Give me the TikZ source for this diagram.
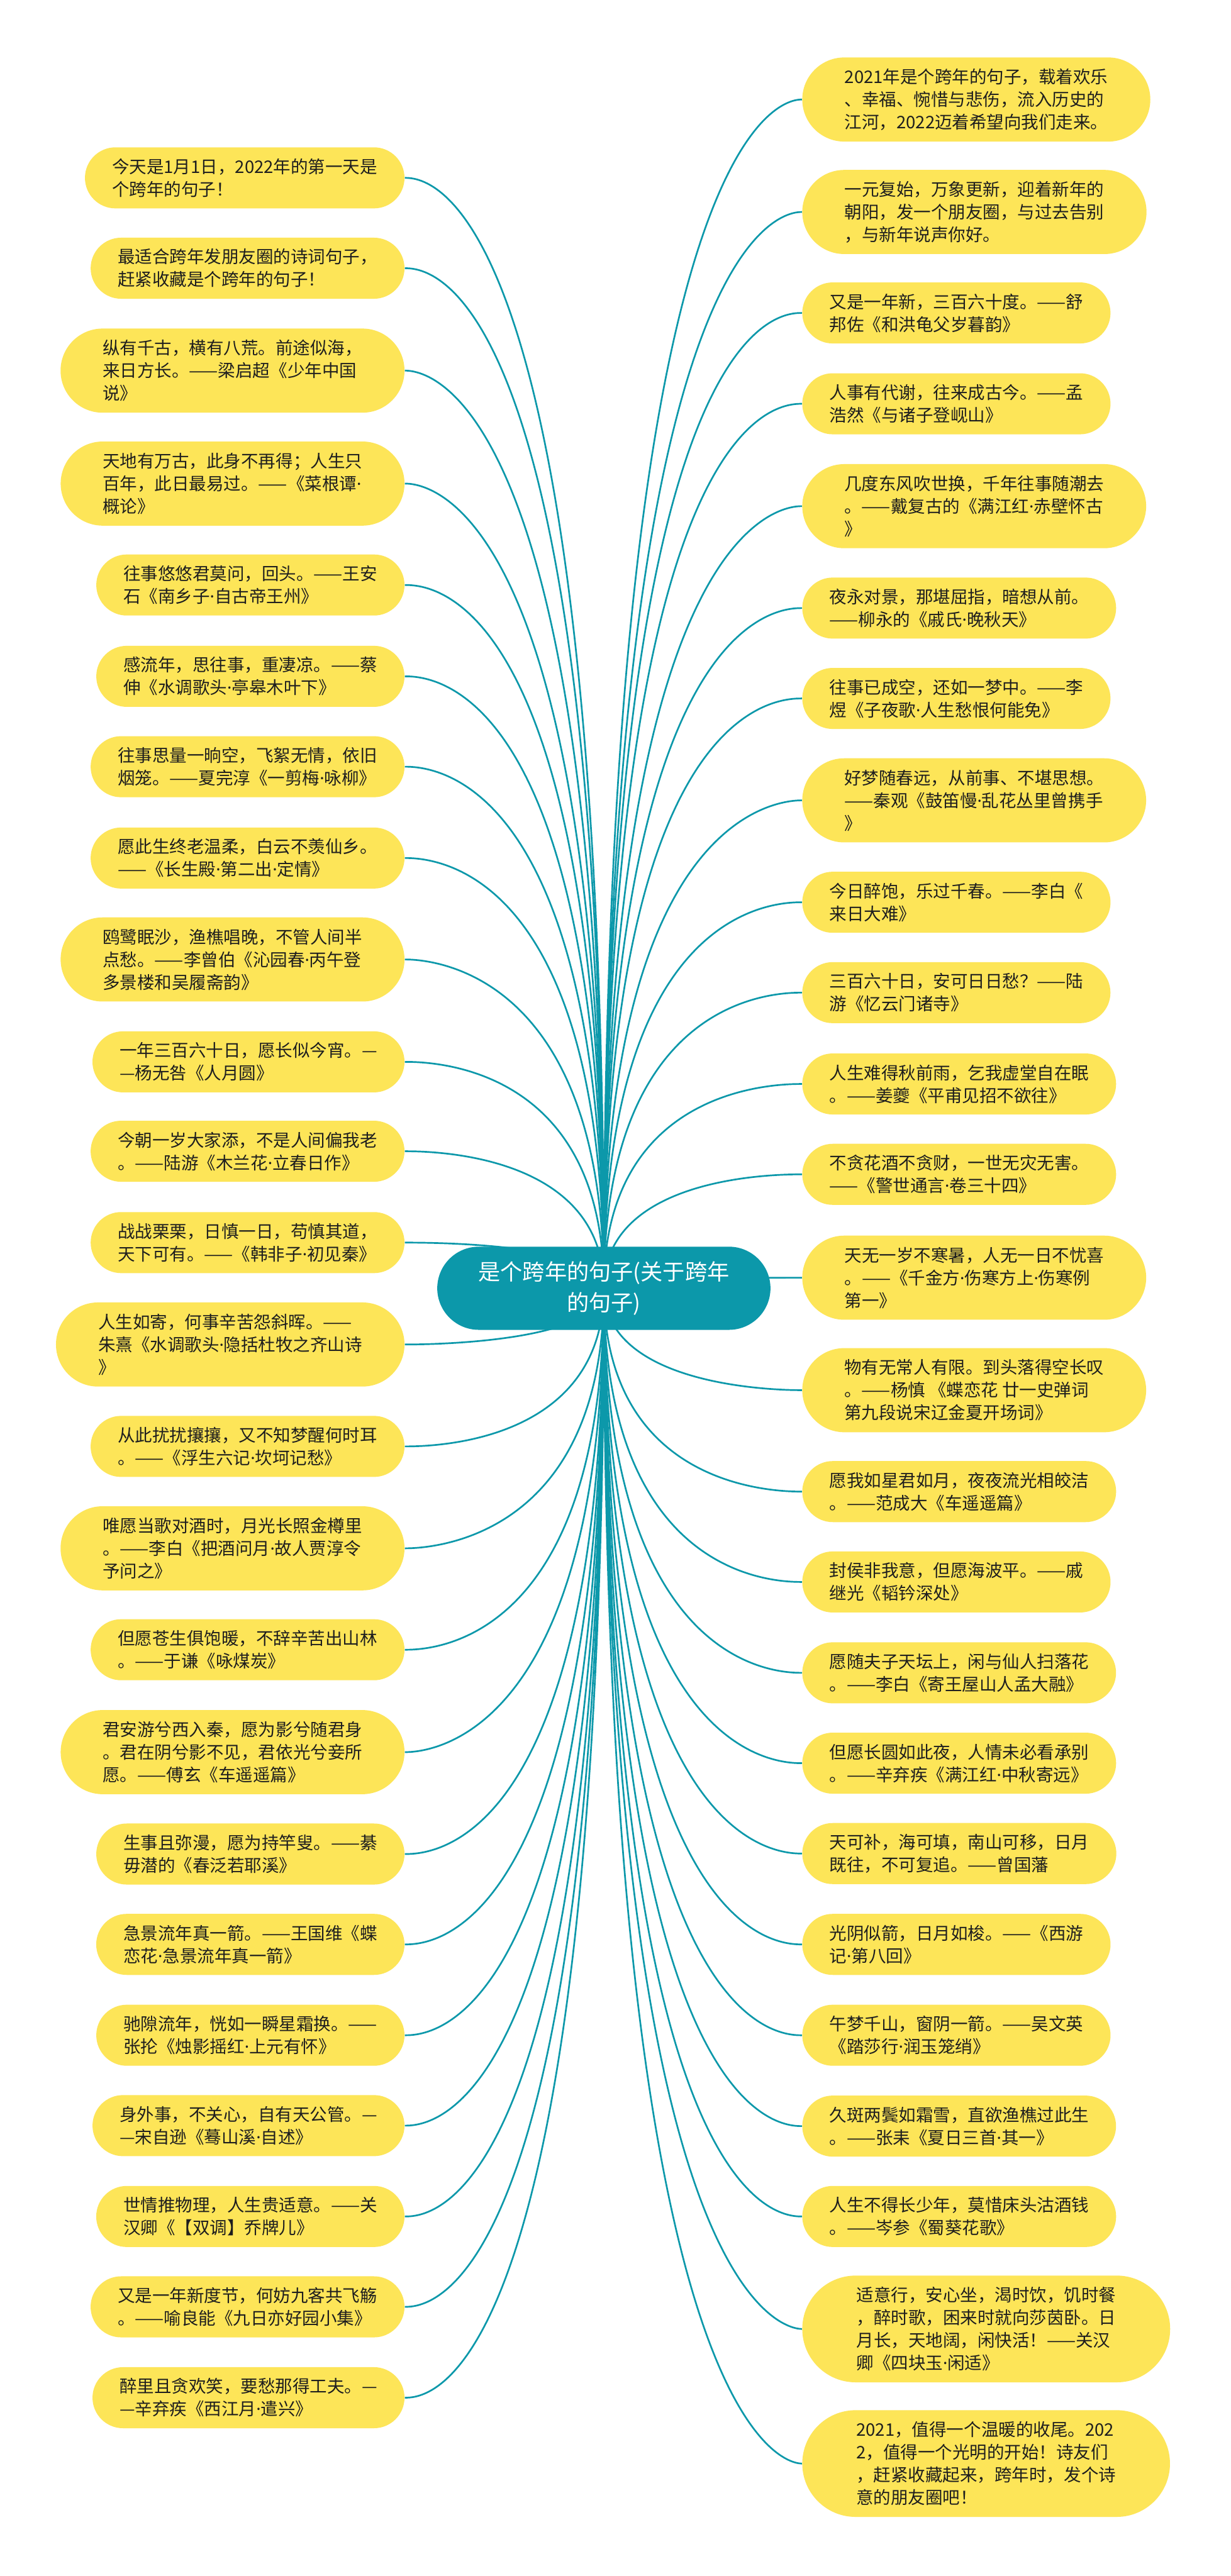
\documentclass[tikz,border=0pt]{standalone}
\usepackage{fontspec}
\setmainfont{Noto Sans CJK SC}
\newfontfamily\latinfont{Noto Sans}
\usepackage{xcolor}
\usetikzlibrary{shapes.misc,positioning,backgrounds,calc}

\definecolor{topicteal}{RGB}{12,152,170}
\definecolor{leafyellow}{RGB}{253,229,88}
\definecolor{leafink}{RGB}{30,30,30}
\newcommand\middledot{{\latinfont ·}}

\begin{document}
\begin{tikzpicture}[
    mainnode/.style={rounded rectangle, fill=topicteal, text=white, align=center, inner xsep=0.65cm, inner ysep=0.1cm, minimum height=1.73cm, font=\fontsize{13.1pt}{18.2pt}\selectfont},
    leafnode/.style={rounded rectangle, fill=leafyellow, text=leafink, align=left, inner xsep=0.42cm, inner ysep=0.1cm, minimum height=1.27cm, font=\fontsize{10.24pt}{13.4pt}\selectfont},
    leafthree/.style={leafnode, inner xsep=0.6cm, minimum height=1.75cm},
    leaffour/.style={leafnode, inner xsep=0.7cm, minimum height=2.22cm},
    branch/.style={draw=topicteal, line width=1pt, to path={.. controls (\tikztostart |- \tikztotarget) and ($(\tikztostart |- \tikztotarget)!0.5!(\tikztotarget)$) .. (\tikztotarget)}}
]
    \useasboundingbox (0,0) rectangle (25.6,-53.59);

    % Central topic
    \node[mainnode] (root) at (12.56,-26.80) {是个跨年的句子(关于跨年\\的句子)};

    % Left branches
    \node[leafnode, anchor=east] (l1) at (8.42,-3.70) {今天是1月1日，2022年的第一天是\\个跨年的句子！};
    \node[leafnode, anchor=east] (l2) at (8.42,-5.58) {最适合跨年发朋友圈的诗词句子，\\赶紧收藏是个跨年的句子！};
    \node[leafthree, anchor=east] (l3) at (8.42,-7.71) {纵有千古，横有八荒。前途似海，\\来日方长。——梁启超《少年中国\\说》};
    \node[leafthree, anchor=east] (l4) at (8.42,-10.06) {天地有万古，此身不再得；人生只\\百年，此日最易过。——《菜根谭\middledot{}\\概论》};
    \node[leafnode, anchor=east] (l5) at (8.42,-12.17) {往事悠悠君莫问，回头。——王安\\石《南乡子\middledot{}自古帝王州》};
    \node[leafnode, anchor=east] (l6) at (8.42,-14.07) {感流年，思往事，重凄凉。——蔡\\伸《水调歌头\middledot{}亭皋木叶下》};
    \node[leafnode, anchor=east] (l7) at (8.42,-15.95) {往事思量一晌空，飞絮无情，依旧\\烟笼。——夏完淳《一剪梅\middledot{}咏柳》};
    \node[leafnode, anchor=east] (l8) at (8.42,-17.85) {愿此生终老温柔，白云不羡仙乡。\\——《长生殿\middledot{}第二出\middledot{}定情》};
    \node[leafthree, anchor=east] (l9) at (8.42,-19.96) {鸥鹭眠沙，渔樵唱晚，不管人间半\\点愁。——李曾伯《沁园春\middledot{}丙午登\\多景楼和吴履斋韵》};
    \node[leafnode, anchor=east] (l10) at (8.42,-22.09) {一年三百六十日，愿长似今宵。—\\—杨无咎《人月圆》};
    \node[leafnode, anchor=east] (l11) at (8.42,-23.95) {今朝一岁大家添，不是人间偏我老\\。——陆游《木兰花\middledot{}立春日作》};
    \node[leafnode, anchor=east] (l12) at (8.42,-25.85) {战战栗栗，日慎一日，苟慎其道，\\天下可有。——《韩非子\middledot{}初见秦》};
    \node[leafthree, anchor=east] (l13) at (8.42,-27.97) {人生如寄，何事辛苦怨斜晖。——\\朱熹《水调歌头\middledot{}隐括杜牧之齐山诗\\》};
    \node[leafnode, anchor=east] (l14) at (8.42,-30.09) {从此扰扰攘攘，又不知梦醒何时耳\\。——《浮生六记\middledot{}坎坷记愁》};
    \node[leafthree, anchor=east] (l15) at (8.42,-32.21) {唯愿当歌对酒时，月光长照金樽里\\。——李白《把酒问月\middledot{}故人贾淳令\\予问之》};
    \node[leafnode, anchor=east] (l16) at (8.42,-34.32) {但愿苍生俱饱暖，不辞辛苦出山林\\。——于谦《咏煤炭》};
    \node[leafthree, anchor=east] (l17) at (8.42,-36.45) {君安游兮西入秦，愿为影兮随君身\\。君在阴兮影不见，君依光兮妾所\\愿。——傅玄《车遥遥篇》};
    \node[leafnode, anchor=east] (l18) at (8.42,-38.57) {生事且弥漫，愿为持竿叟。——綦\\毋潜的《春泛若耶溪》};
    \node[leafnode, anchor=east] (l19) at (8.42,-40.45) {急景流年真一箭。——王国维《蝶\\恋花\middledot{}急景流年真一箭》};
    \node[leafnode, anchor=east] (l20) at (8.42,-42.34) {驰隙流年，恍如一瞬星霜换。——\\张抡《烛影摇红\middledot{}上元有怀》};
    \node[leafnode, anchor=east] (l21) at (8.42,-44.22) {身外事，不关心，自有天公管。—\\—宋自逊《蓦山溪\middledot{}自述》};
    \node[leafnode, anchor=east] (l22) at (8.42,-46.11) {世情推物理，人生贵适意。——关\\汉卿《【双调】乔牌儿》};
    \node[leafnode, anchor=east] (l23) at (8.42,-47.99) {又是一年新度节，何妨九客共飞觞\\。——喻良能《九日亦好园小集》};
    \node[leafnode, anchor=east] (l24) at (8.42,-49.88) {醉里且贪欢笑，要愁那得工夫。—\\—辛弃疾《西江月\middledot{}遣兴》};

    % Right branches
    \node[leafthree, anchor=west] (r1) at (16.68,-2.07) {2021年是个跨年的句子，载着欢乐\\、幸福、惋惜与悲伤，流入历史的\\江河，2022迈着希望向我们走来。};
    \node[leafthree, anchor=west] (r2) at (16.68,-4.41) {一元复始，万象更新，迎着新年的\\朝阳，发一个朋友圈，与过去告别\\，与新年说声你好。};
    \node[leafnode, anchor=west] (r3) at (16.68,-6.51) {又是一年新，三百六十度。——舒\\邦佐《和洪龟父岁暮韵》};
    \node[leafnode, anchor=west] (r4) at (16.68,-8.40) {人事有代谢，往来成古今。——孟\\浩然《与诸子登岘山》};
    \node[leafthree, anchor=west] (r5) at (16.68,-10.53) {几度东风吹世换，千年往事随潮去\\。——戴复古的《满江红\middledot{}赤壁怀古\\》};
    \node[leafnode, anchor=west] (r6) at (16.68,-12.65) {夜永对景，那堪屈指，暗想从前。\\——柳永的《戚氏\middledot{}晚秋天》};
    \node[leafnode, anchor=west] (r7) at (16.68,-14.53) {往事已成空，还如一梦中。——李\\煜《子夜歌\middledot{}人生愁恨何能免》};
    \node[leafthree, anchor=west] (r8) at (16.68,-16.65) {好梦随春远，从前事、不堪思想。\\——秦观《鼓笛慢\middledot{}乱花丛里曾携手\\》};
    \node[leafnode, anchor=west] (r9) at (16.68,-18.77) {今日醉饱，乐过千春。——李白《\\来日大难》};
    \node[leafnode, anchor=west] (r10) at (16.68,-20.65) {三百六十日，安可日日愁？——陆\\游《忆云门诸寺》};
    \node[leafnode, anchor=west] (r11) at (16.68,-22.55) {人生难得秋前雨，乞我虚堂自在眠\\。——姜夔《平甫见招不欲往》};
    \node[leafnode, anchor=west] (r12) at (16.68,-24.43) {不贪花酒不贪财，一世无灾无害。\\——《警世通言\middledot{}卷三十四》};
    \node[leafthree, anchor=west] (r13) at (16.68,-26.58) {天无一岁不寒暑，人无一日不忧喜\\。——《千金方\middledot{}伤寒方上\middledot{}伤寒例\\第一》};
    \node[leafthree, anchor=west] (r14) at (16.68,-28.92) {物有无常人有限。到头落得空长叹\\。——杨慎 《蝶恋花 廿一史弹词\\第九段说宋辽金夏开场词》};
    \node[leafnode, anchor=west] (r15) at (16.68,-31.03) {愿我如星君如月，夜夜流光相皎洁\\。——范成大《车遥遥篇》};
    \node[leafnode, anchor=west] (r16) at (16.68,-32.91) {封侯非我意，但愿海波平。——戚\\继光《韬钤深处》};
    \node[leafnode, anchor=west] (r17) at (16.68,-34.80) {愿随夫子天坛上，闲与仙人扫落花\\。——李白《寄王屋山人孟大融》};
    \node[leafnode, anchor=west] (r18) at (16.68,-36.68) {但愿长圆如此夜，人情未必看承别\\。——辛弃疾《满江红\middledot{}中秋寄远》};
    \node[leafnode, anchor=west] (r19) at (16.68,-38.56) {天可补，海可填，南山可移，日月\\既往，不可复追。——曾国藩};
    \node[leafnode, anchor=west] (r20) at (16.68,-40.45) {光阴似箭，日月如梭。——《西游\\记\middledot{}第八回》};
    \node[leafnode, anchor=west] (r21) at (16.68,-42.34) {午梦千山，窗阴一箭。——吴文英\\《踏莎行\middledot{}润玉笼绡》};
    \node[leafnode, anchor=west] (r22) at (16.68,-44.23) {久斑两鬓如霜雪，直欲渔樵过此生\\。——张耒《夏日三首\middledot{}其一》};
    \node[leafnode, anchor=west] (r23) at (16.68,-46.11) {人生不得长少年，莫惜床头沽酒钱\\。——岑参《蜀葵花歌》};
    \node[leaffour, anchor=west] (r24) at (16.68,-48.45) {适意行，安心坐，渴时饮，饥时餐\\，醉时歌，困来时就向莎茵卧。日\\月长，天地阔，闲快活！——关汉\\卿《四块玉\middledot{}闲适》};
    \node[leaffour, anchor=west] (r25) at (16.68,-51.25) {2021，值得一个温暖的收尾。202\\2，值得一个光明的开始！诗友们\\，赶紧收藏起来，跨年时，发个诗\\意的朋友圈吧！};

    % Connections
    \begin{scope}[on background layer]
    \fill[white] (0,0) rectangle (25.6,-53.59);
    \draw[branch] (root.center) to (l1);
    \draw[branch] (root.center) to (l2);
    \draw[branch] (root.center) to (l3);
    \draw[branch] (root.center) to (l4);
    \draw[branch] (root.center) to (l5);
    \draw[branch] (root.center) to (l6);
    \draw[branch] (root.center) to (l7);
    \draw[branch] (root.center) to (l8);
    \draw[branch] (root.center) to (l9);
    \draw[branch] (root.center) to (l10);
    \draw[branch] (root.center) to (l11);
    \draw[branch] (root.center) to (l12);
    \draw[branch] (root.center) to (l13);
    \draw[branch] (root.center) to (l14);
    \draw[branch] (root.center) to (l15);
    \draw[branch] (root.center) to (l16);
    \draw[branch] (root.center) to (l17);
    \draw[branch] (root.center) to (l18);
    \draw[branch] (root.center) to (l19);
    \draw[branch] (root.center) to (l20);
    \draw[branch] (root.center) to (l21);
    \draw[branch] (root.center) to (l22);
    \draw[branch] (root.center) to (l23);
    \draw[branch] (root.center) to (l24);
    \draw[branch] (root.center) to (r1);
    \draw[branch] (root.center) to (r2);
    \draw[branch] (root.center) to (r3);
    \draw[branch] (root.center) to (r4);
    \draw[branch] (root.center) to (r5);
    \draw[branch] (root.center) to (r6);
    \draw[branch] (root.center) to (r7);
    \draw[branch] (root.center) to (r8);
    \draw[branch] (root.center) to (r9);
    \draw[branch] (root.center) to (r10);
    \draw[branch] (root.center) to (r11);
    \draw[branch] (root.center) to (r12);
    \draw[branch] (root.center) to (r13);
    \draw[branch] (root.center) to (r14);
    \draw[branch] (root.center) to (r15);
    \draw[branch] (root.center) to (r16);
    \draw[branch] (root.center) to (r17);
    \draw[branch] (root.center) to (r18);
    \draw[branch] (root.center) to (r19);
    \draw[branch] (root.center) to (r20);
    \draw[branch] (root.center) to (r21);
    \draw[branch] (root.center) to (r22);
    \draw[branch] (root.center) to (r23);
    \draw[branch] (root.center) to (r24);
    \draw[branch] (root.center) to (r25);
    \end{scope}
\end{tikzpicture}
\end{document}
